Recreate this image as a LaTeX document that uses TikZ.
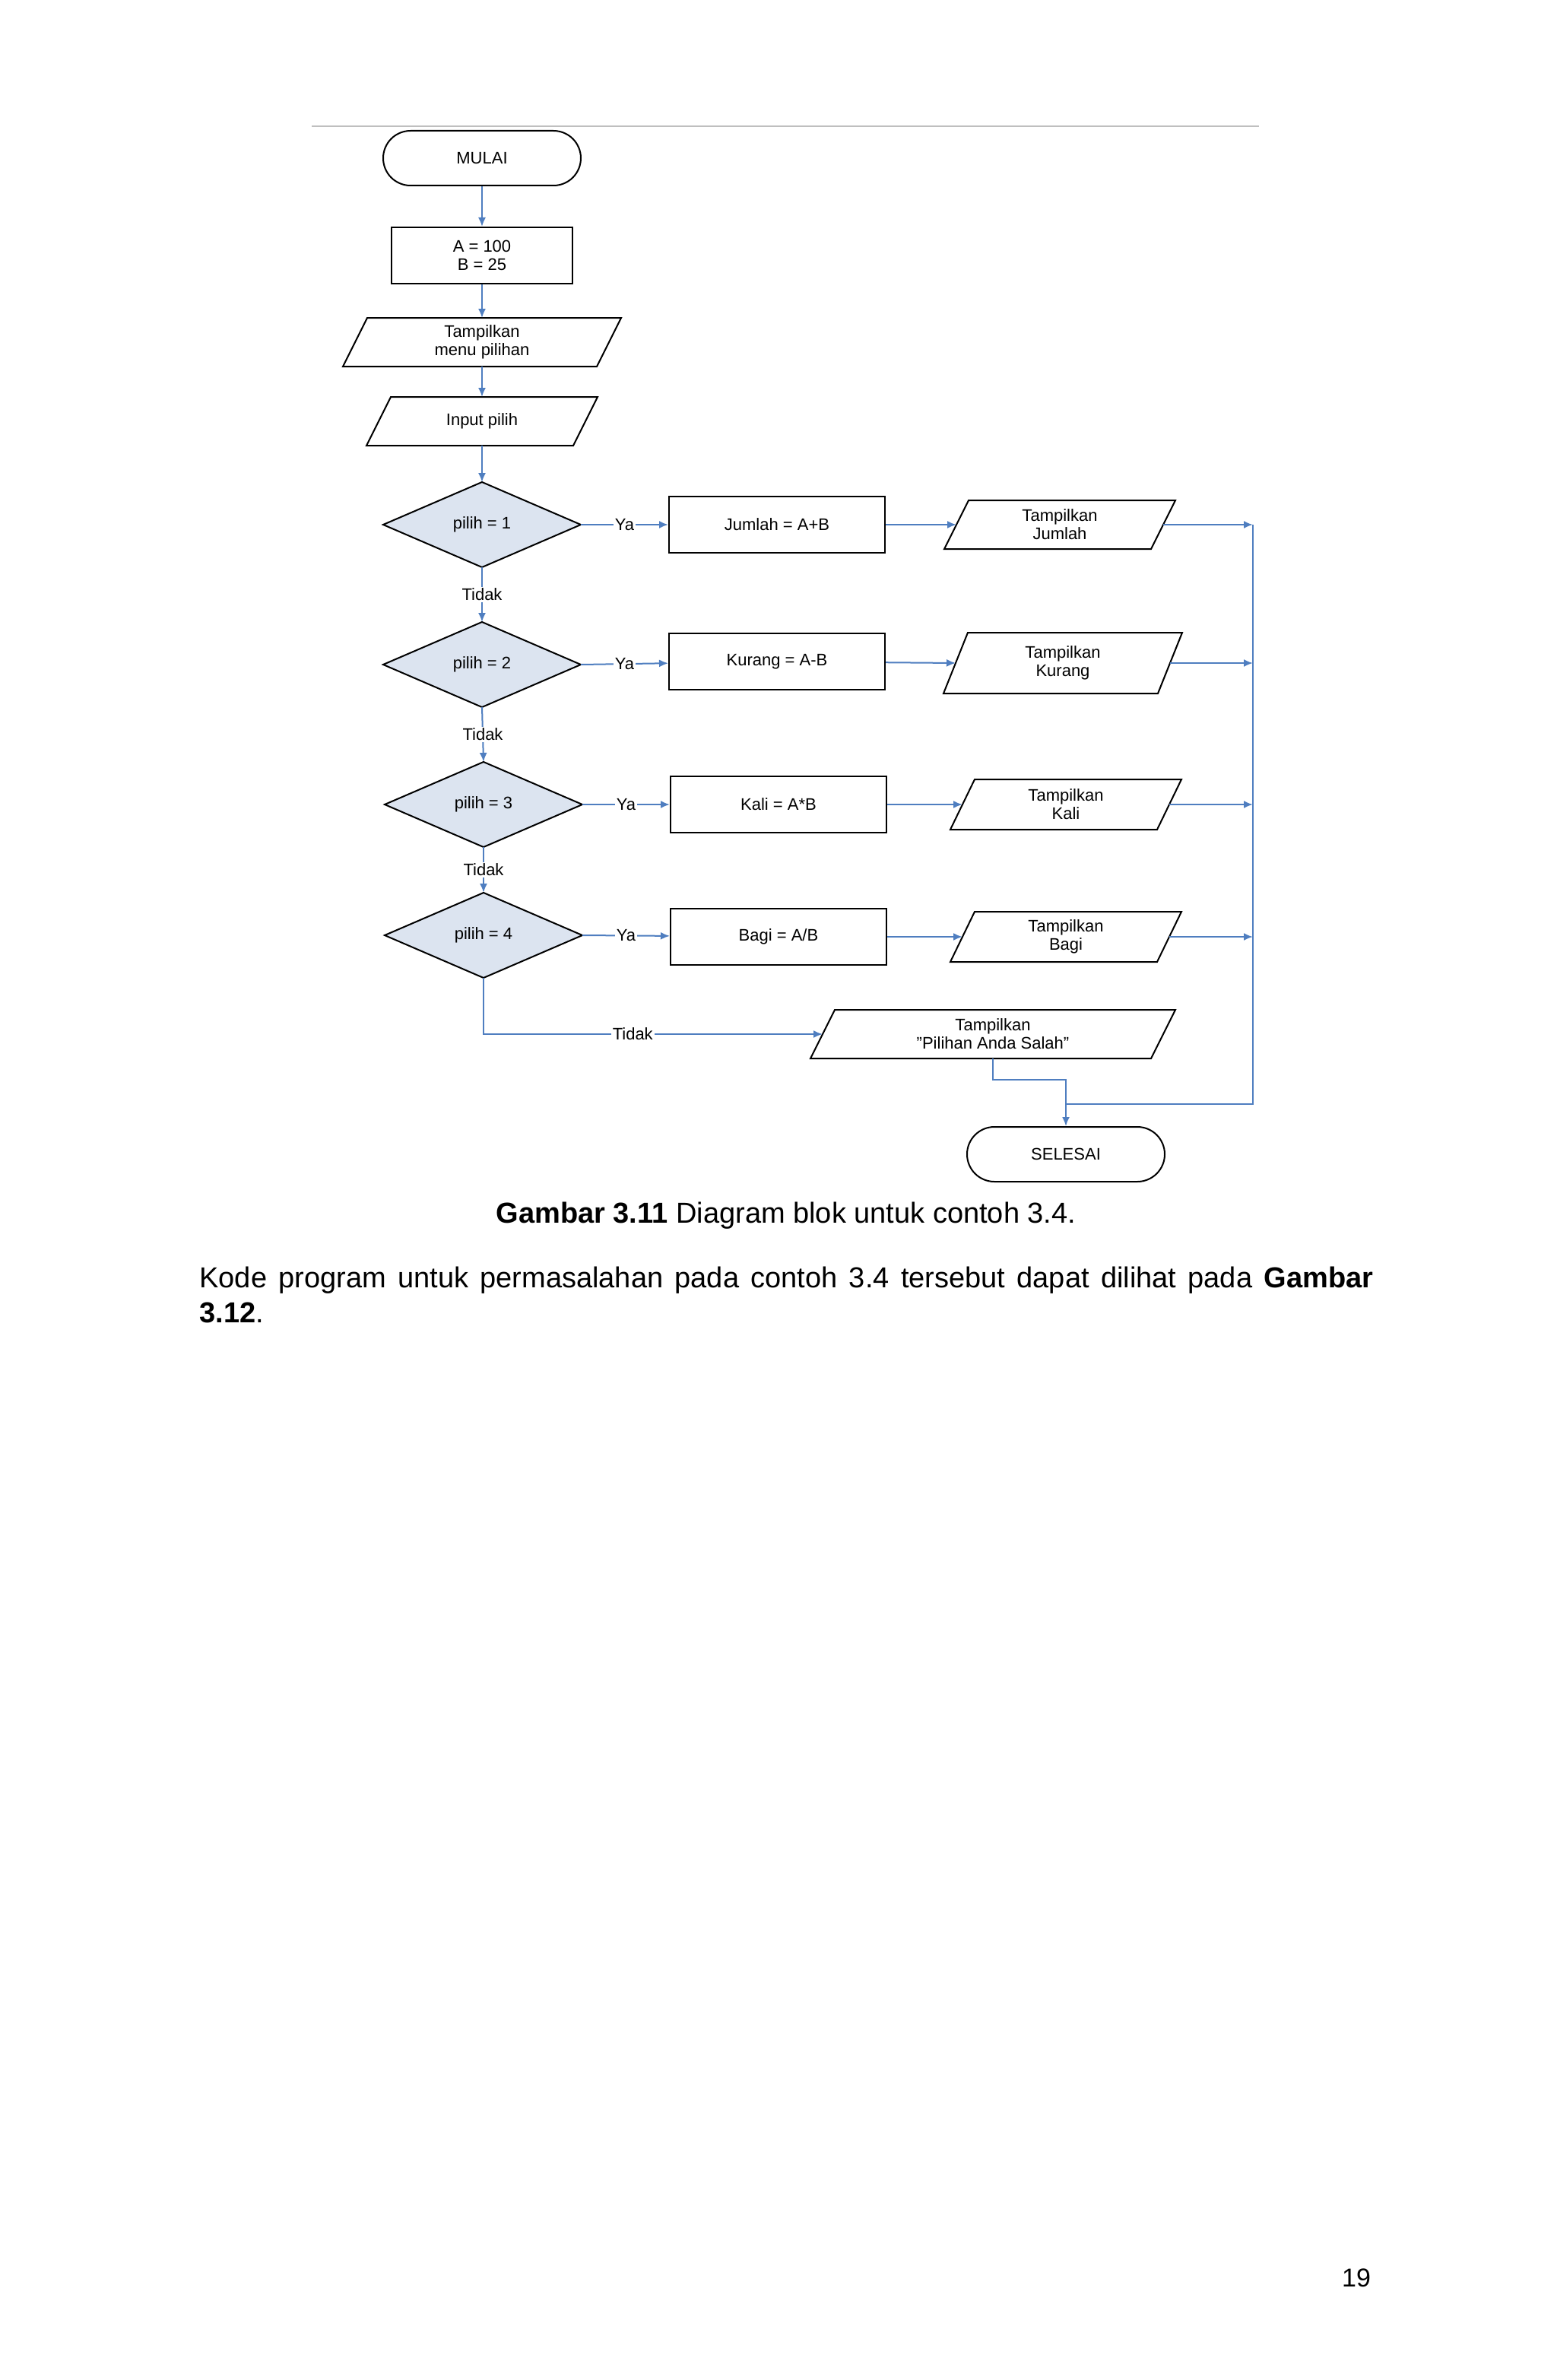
\documentclass[tikz,border=0pt]{standalone}
\usepackage{fontspec}
\setmainfont{Liberation Sans}
\usetikzlibrary{arrows.meta}
\definecolor{ln}{HTML}{4F7EC0}
\definecolor{dfill}{HTML}{DCE4F0}
\newcommand{\pbox}[7]{% name cx cy w h slant text
  \draw[shp] (#2-#4/2-#6/2,#3+#5/2) -- (#2+#4/2-#6/2,#3+#5/2) -- (#2+#4/2+#6/2,#3-#5/2) -- (#2-#4/2+#6/2,#3-#5/2) -- cycle;
  \node[txt] (#1) at (#2,#3) {#7};
  \coordinate (#1-l) at (#2-#4/2,#3); \coordinate (#1-r) at (#2+#4/2,#3);
  \coordinate (#1-t) at (#2,#3-#5/2); \coordinate (#1-b) at (#2,#3+#5/2);}
\newcommand{\dmd}[4]{% name cx cy text
  \draw[shp,fill=dfill] (#2-65,#3) -- (#2,#3-28) -- (#2+65,#3) -- (#2,#3+28) -- cycle;
  \node[txt] (#1) at (#2,#3) {#4};
  \coordinate (#1-l) at (#2-65,#3); \coordinate (#1-r) at (#2+65,#3);
  \coordinate (#1-t) at (#2,#3-28); \coordinate (#1-b) at (#2,#3+28);}
\begin{document}
\begin{tikzpicture}[x=1pt,y=-1pt,
  shp/.style={draw=black,line width=1pt},
  txt/.style={font=\fontsize{11}{12}\selectfont,align=center,inner sep=0pt},
  rbox/.style={shp,txt,minimum width=142pt,minimum height=37pt},
  term/.style={shp,txt,rounded corners=18pt,minimum width=130pt,minimum height=36pt},
  ar/.style={draw=ln,line width=1pt,-{Latex[length=6pt,width=5pt]}},
  ln/.style={draw=ln,line width=1pt},
  lab/.style={txt,fill=white,inner sep=1pt}]
\fill[white] (0,0) rectangle (1024,1565);
\useasboundingbox (0,0) rectangle (1024,1565);
\draw[gray!50,line width=1pt] (205,83) -- (828,83);
\node[term] (mulai) at (317,104) {MULAI};
\node[rbox,minimum width=119pt] (ab) at (317,168) {A = 100\\B = 25};
\pbox{menu}{317}{225}{167}{32}{16}{Tampilkan\\menu pilihan}
\pbox{inp}{317}{277}{136}{32}{16}{Input pilih}
\dmd{d1}{317}{345}{pilih = 1}
\dmd{d2}{317}{437}{pilih = 2}
\dmd{d3}{318}{529}{pilih = 3}
\dmd{d4}{318}{615}{pilih = 4}
\node[rbox] (jum) at (511,345) {Jumlah = A+B};
\node[rbox] (kur) at (511,435) {Kurang = A-B};
\node[rbox] (kal) at (512,529) {Kali = A*B};
\node[rbox] (bag) at (512,616) {Bagi = A/B};
\pbox{tj}{697}{345}{136}{32}{16}{Tampilkan\\Jumlah}
\pbox{tk}{699}{436}{141}{40}{16}{Tampilkan\\Kurang}
\pbox{tka}{701}{529}{136}{33}{16}{Tampilkan\\Kali}
\pbox{tb}{701}{616}{136}{33}{16}{Tampilkan\\Bagi}
\pbox{ts}{653}{680}{224}{32}{16}{Tampilkan\\\char`"Pilihan Anda Salah\char`"}
\node[term] (sel) at (701,759) {SELESAI};
% vertical flow
\draw[ar] (mulai) -- (ab);
\draw[ar] (ab) -- (menu-t);
\draw[ar] (menu-b) -- (inp-t);
\draw[ar] (inp-b) -- (d1-t);
\draw[ar] (d1-b) -- node[lab]{Tidak} (d2-t);
\draw[ar] (d2-b) -- node[lab]{Tidak} (d3-t);
\draw[ar] (d3-b) -- node[lab]{Tidak} (d4-t);
% Ya branches
\draw[ar] (d1-r) -- node[lab,pos=0.5]{Ya} (jum);
\draw[ar] (d2-r) -- node[lab,pos=0.5]{Ya} (kur);
\draw[ar] (d3-r) -- node[lab,pos=0.5]{Ya} (kal);
\draw[ar] (d4-r) -- node[lab,pos=0.5]{Ya} (bag);
\draw[ar] (jum) -- (tj-l);
\draw[ar] (kur) -- (tk-l);
\draw[ar] (kal) -- (tka-l);
\draw[ar] (bag) -- (tb-l);
\coordinate (rt) at (824,345);
\coordinate (rb) at (824,726);
\draw[ar] (tj-r) -- (rt);
\draw[ar] (tk-r) -- (824,436);
\draw[ar] (tka-r) -- (824,529);
\draw[ar] (tb-r) -- (824,616);
\draw[ln] (rt) -- (rb) -- (701,726);
\draw[ar] (d4-b) |- node[lab,pos=0.72]{Tidak} (ts-l);
\draw[ar] (ts-b) |- (701,710) -- (sel);
% text
\node[anchor=base,font=\fontsize{19}{22}\selectfont,inner sep=0pt] (cap) at (517,804) {\textbf{Gambar 3.11} Diagram blok untuk contoh 3.4.};
\node[anchor=north west,font=\fontsize{19}{23}\selectfont,inner sep=0pt,text width=772pt,align=justify] (par) at (131,833) {Kode program untuk permasalahan pada contoh 3.4 tersebut dapat dilihat pada \textbf{Gambar 3.12}.};
\node[font=\fontsize{17}{20}\selectfont,inner sep=0pt] (pg) at (892,1498) {19};
\end{tikzpicture}
\end{document}
